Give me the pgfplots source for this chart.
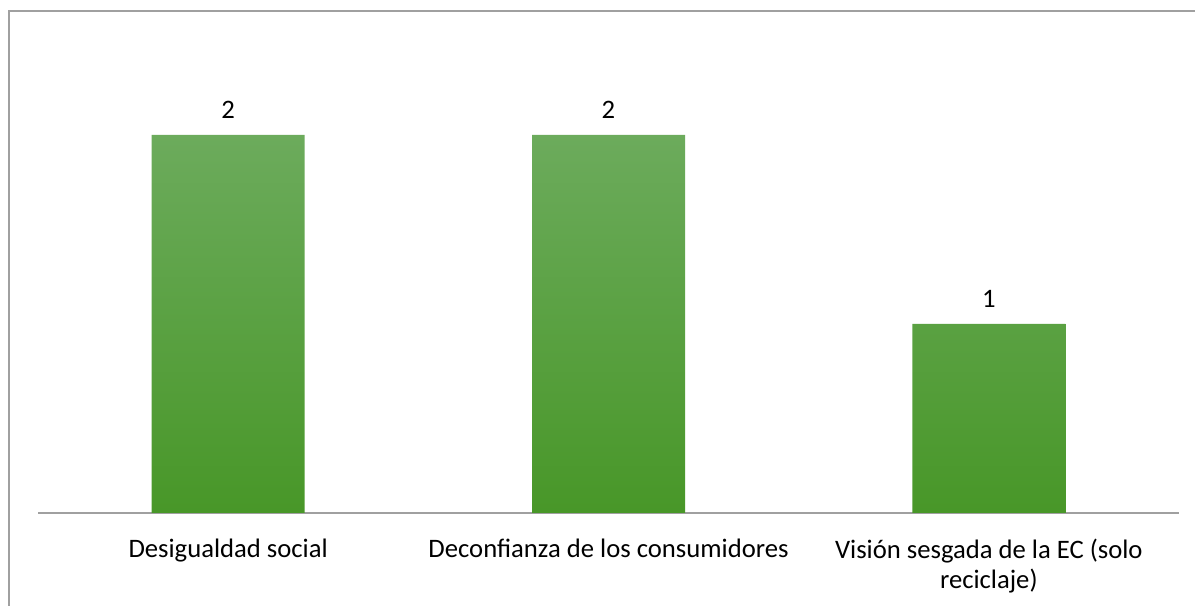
\documentclass[border=0pt]{standalone}
\usepackage{fontspec}
\setmainfont{Carlito}
\usepackage{pgfplots}
\pgfplotsset{compat=1.18}
\definecolor{bartop}{RGB}{108,171,92}
\definecolor{barbot}{RGB}{72,151,40}
\definecolor{frame}{RGB}{160,160,160}
\begin{document}
\begin{tikzpicture}
  \useasboundingbox (0pt,0pt) rectangle (896.25pt,454.5pt);
  \draw[frame, line width=1.5pt] (6.375pt,0pt) -- (6.375pt,445.875pt) -- (896.25pt,445.875pt);
  \begin{axis}[
    at={(28.5pt,69.75pt)}, anchor=south west,
    scale only axis,
    width=855.75pt, height=354.375pt,
    ybar, bar width=114.75pt,
    xmin=-0.5, xmax=2.5,
    ymin=0, ymax=2.5,
    axis x line=bottom, axis y line=none,
    axis line style={-, draw=frame, line width=1.1pt},
    xtick=data,
    xticklabels={Desigualdad social, Deconfianza de los consumidores, {Visión sesgada de la EC (solo\\reciclaje)}},
    major tick length=0pt,
    xticklabel style={font=\fontsize{20}{22.5}\selectfont, align=center, anchor=north, yshift=-16pt},
    nodes near coords,
    nodes near coords style={font=\fontsize{20}{24}\selectfont, yshift=9pt},
    /pgf/number format/assume math mode=true,
    clip=false,
  ]
    \addplot[draw=none, top color=bartop, bottom color=barbot] coordinates {(0,2) (1,2) (2,1)};
  \end{axis}
\end{tikzpicture}
\end{document}
